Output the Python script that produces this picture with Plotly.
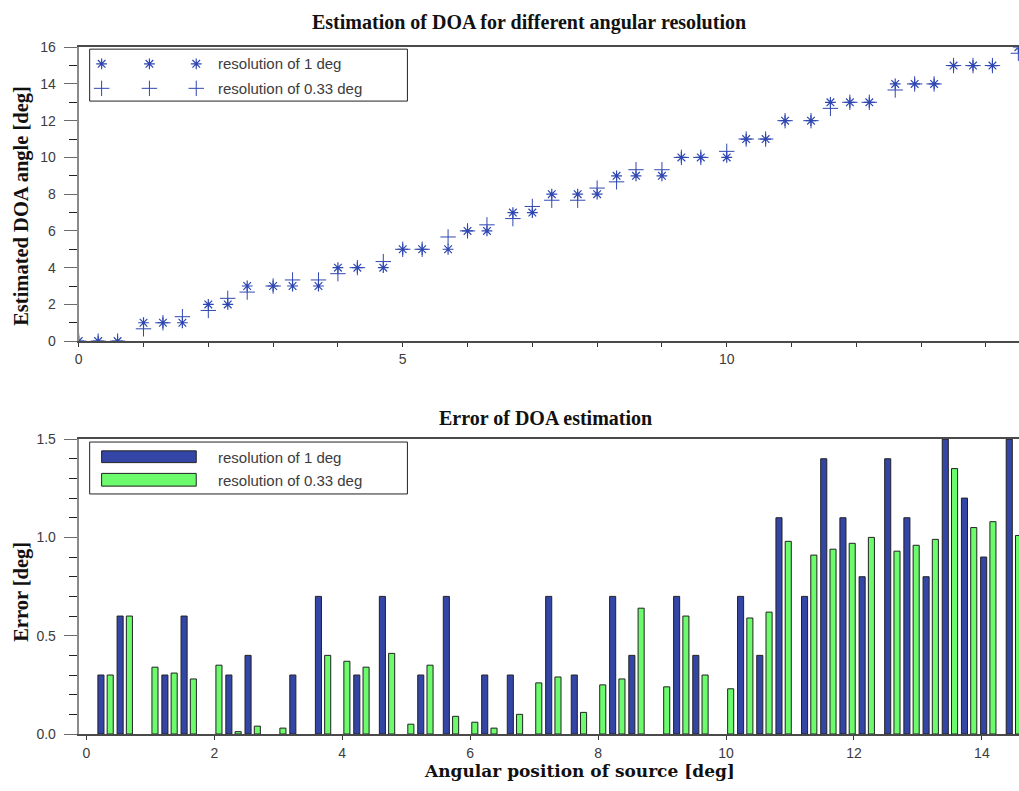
import plotly.graph_objects as go

W, H = 1019, 791

# Angular positions of the source [deg]
positions = [0, 0.3, 0.6, 1.0, 1.3, 1.6, 2.0, 2.3, 2.6, 3.0, 3.3, 3.7, 4.0, 4.3, 4.7,
             5.0, 5.3, 5.7, 6.0, 6.3, 6.7, 7.0, 7.3, 7.7, 8.0, 8.3, 8.6, 9.0, 9.3, 9.6,
             10.0, 10.3, 10.6, 10.9, 11.3, 11.6, 11.9, 12.2, 12.6, 12.9, 13.2, 13.5,
             13.8, 14.1, 14.5]

# Estimated DOA [deg]
est_res1 = [0, 0, 0, 1, 1, 1, 2, 2, 3, 3, 3, 3, 4, 4, 4, 5, 5, 5, 6, 6, 7, 7, 8, 8, 8,
            9, 9, 9, 10, 10, 10, 11, 11, 12, 12, 13, 13, 13, 14, 14, 14, 15, 15, 15, 16]
est_res033 = [0, 0, 0, 0.67, 1, 1.33, 1.67, 2.33, 2.67, 3, 3.33, 3.33, 3.67, 4, 4.33,
              5, 5, 5.67, 6, 6.33, 6.67, 7.33, 7.67, 7.67, 8.33, 8.67, 9.33, 9.33, 10,
              10, 10.33, 11, 11, 12, 12, 12.67, 13, 13, 13.67, 14, 14, 15, 15, 15, 15.67]

# Estimation error [deg]
err_res1 = [0, 0.3, 0.6, 0, 0.3, 0.6, 0, 0.3, 0.4, 0, 0.3, 0.7, 0, 0.3, 0.7, 0, 0.3,
            0.7, 0, 0.3, 0.3, 0, 0.7, 0.3, 0, 0.7, 0.4, 0, 0.7, 0.4, 0, 0.7, 0.4, 1.1,
            0.7, 1.4, 1.1, 0.8, 1.4, 1.1, 0.8, 1.5, 1.2, 0.9, 1.5]
err_res033 = [0, 0.3, 0.6, 0.34, 0.31, 0.28, 0.35, 0.012, 0.04, 0.03, 0, 0.40, 0.37,
              0.34, 0.41, 0.05, 0.35, 0.09, 0.06, 0.03, 0.10, 0.26, 0.29, 0.11, 0.25,
              0.28, 0.64, 0.24, 0.60, 0.30, 0.23, 0.59, 0.62, 0.98, 0.91, 0.94, 0.97,
              1.00, 0.93, 0.96, 0.99, 1.35, 1.05, 1.08, 1.01]

labels = ["resolution of 1 deg", "resolution of 0.33 deg"]

MARK = "#2f47b0"
BLUE = "#3346a6"
GREEN = "#6cfb6c"
EDGE = "#222222"
TICKFONT = dict(family="Liberation Sans", size=14, color="#3c3c3c")
SERIF = "Liberation Serif"


def px(x):
    return x / W


def py(y):
    return 1 - y / H


def nonzero(vals):
    # zero-height bars would otherwise leave an outline on the axis
    return [v if v > 0 else None for v in vals]


star = dict(symbol="asterisk-open", size=9, color=MARK, line=dict(color=MARK, width=1.2))
plus = dict(symbol="cross-thin-open", size=11, color=MARK, line=dict(color=MARK, width=1))

fig = go.Figure()

# Upper panel: estimated angle vs. source position
fig.add_trace(go.Scatter(x=positions, y=est_res1, mode="markers", name=labels[0],
                         marker=star, xaxis="x", yaxis="y", cliponaxis=True))
fig.add_trace(go.Scatter(x=positions, y=est_res033, mode="markers", name=labels[1],
                         marker=plus, xaxis="x", yaxis="y", cliponaxis=True))

# Lower panel: estimation error bars, two per position
fig.add_trace(go.Bar(x=positions, y=nonzero(err_res1), name=labels[0], width=0.095,
                     offset=-0.12, marker=dict(color=BLUE, line=dict(color=EDGE, width=1)),
                     xaxis="x2", yaxis="y2"))
fig.add_trace(go.Bar(x=positions, y=nonzero(err_res033), name=labels[1], width=0.095,
                     offset=0.025, marker=dict(color=GREEN, line=dict(color=EDGE, width=1)),
                     xaxis="x2", yaxis="y2"))

# Legend glyphs for the upper panel (pixel-space overlay)
leg_x = [98, 146, 193]
fig.add_trace(go.Scatter(x=leg_x, y=[57] * 3, mode="markers", hoverinfo="skip",
                         marker=star, xaxis="x3", yaxis="y3"))
fig.add_trace(go.Scatter(x=leg_x, y=[82] * 3, mode="markers", hoverinfo="skip",
                         marker=plus, xaxis="x3", yaxis="y3"))

x_dom = [px(75), 1.0]
common_y = dict(ticks="outside", showline=True, linecolor="#8a8a8a", linewidth=2,
                showgrid=False, zeroline=False, tickfont=TICKFONT, ticklen=13,
                tickcolor="#6a6a6a", ticklabelstandoff=5)
common_x = dict(ticks="outside", showline=True, linecolor="#4a4a4a", linewidth=1.5,
                mirror=True, showgrid=False, zeroline=False, tickfont=TICKFONT,
                ticklen=4, tickcolor="#333333")

fig.update_layout(
    width=W, height=H,
    margin=dict(l=0, r=0, t=0, b=0),
    paper_bgcolor="white", plot_bgcolor="rgba(0,0,0,0)",
    showlegend=False, barmode="overlay",
    xaxis=dict(domain=x_dom, anchor="y", range=[0, 14.51], tickvals=[0, 5, 10],
               minor=dict(tickmode="linear", tick0=0, dtick=1, ticks="outside",
                          ticklen=4, tickcolor="#333333"),
               **common_x),
    yaxis=dict(domain=[py(340), py(40)], anchor="x", range=[0, 16],
               tickvals=list(range(0, 17, 2)),
               minor=dict(tickmode="linear", tick0=0, dtick=1, ticks="outside",
                          ticklen=8, tickcolor="#222222"),
               **common_y),
    xaxis2=dict(domain=x_dom, anchor="y2", range=[-0.12, 14.58],
                tickvals=list(range(0, 15, 2)), ticklabelstandoff=1, **common_x),
    yaxis2=dict(domain=[py(741), py(440)], anchor="x2", range=[0, 1.5],
                tickvals=[0, 0.5, 1.0, 1.5], ticktext=["0.0", "0.5", "1.0", "1.5"],
                minor=dict(tickmode="linear", tick0=0, dtick=0.1, ticks="outside",
                           ticklen=8, tickcolor="#222222"),
                **common_y),
    xaxis3=dict(domain=[0, 1], anchor="y3", range=[0, W], visible=False, fixedrange=True),
    yaxis3=dict(domain=[0, 1], anchor="x3", range=[H, 0], visible=False, fixedrange=True),
)

# Legend frames and bar swatches
shapes = [
    dict(type="rect", xref="paper", yref="paper", x0=px(86), x1=px(405),
         y0=py(95), y1=py(42), line=dict(color=EDGE, width=1), fillcolor="rgba(0,0,0,0)"),
    dict(type="rect", xref="paper", yref="paper", x0=px(86), x1=px(405),
         y0=py(496), y1=py(443), line=dict(color=EDGE, width=1), fillcolor="white"),
    dict(type="rect", xref="paper", yref="paper", x0=px(98), x1=px(193),
         y0=py(464), y1=py(452), line=dict(color=EDGE, width=1), fillcolor=BLUE),
    dict(type="rect", xref="paper", yref="paper", x0=px(98), x1=px(193),
         y0=py(488), y1=py(475), line=dict(color=EDGE, width=1), fillcolor=GREEN),
]
fig.update_layout(shapes=shapes)

LEGFONT = dict(family="Liberation Sans", size=15, color="#3c3c3c")
annotations = [
    dict(text=labels[0], x=px(213), y=py(57), xanchor="left", yanchor="middle", font=LEGFONT),
    dict(text=labels[1], x=px(213), y=py(82), xanchor="left", yanchor="middle", font=LEGFONT),
    dict(text=labels[0], x=px(213), y=py(459), xanchor="left", yanchor="middle", font=LEGFONT),
    dict(text=labels[1], x=px(213), y=py(482), xanchor="left", yanchor="middle", font=LEGFONT),
    dict(text="<b>Estimation of DOA for different angular resolution</b>", x=px(527), y=py(15),
         xanchor="center", yanchor="middle", font=dict(family=SERIF, size=20, color="#111")),
    dict(text="<b>Error of DOA estimation</b>", x=px(544), y=py(418),
         xanchor="center", yanchor="middle", font=dict(family=SERIF, size=20, color="#111")),
    dict(text="<b>Angular position of source [deg]</b>", x=px(578), y=py(779),
         xanchor="center", yanchor="middle",
         font=dict(family="DejaVu Serif", size=17, color="#111")),
    dict(text="<b>Estimated DOA angle [deg]</b>", x=px(18), y=py(202), textangle=-90,
         xanchor="center", yanchor="middle", font=dict(family=SERIF, size=20.5, color="#111")),
    dict(text="<b>Error [deg]</b>", x=px(18), y=py(596), textangle=-90,
         xanchor="center", yanchor="middle", font=dict(family=SERIF, size=20.5, color="#111")),
]
for a in annotations:
    a.update(xref="paper", yref="paper", showarrow=False)
fig.update_layout(annotations=annotations)

fig.write_html("out.html")
